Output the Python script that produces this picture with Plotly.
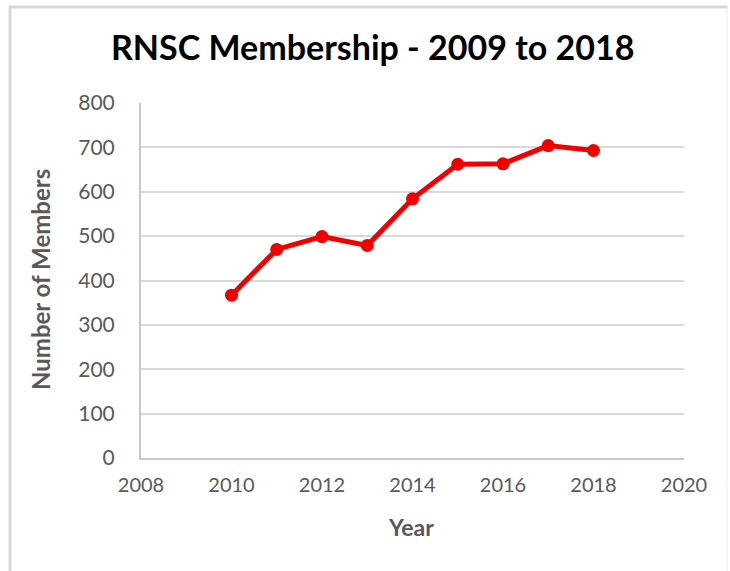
import plotly.graph_objects as go

years = [2010, 2011, 2012, 2013, 2014, 2015, 2016, 2017, 2018]
members = [367, 470, 499, 479, 584, 662, 663, 704, 693]

x_ticks = [2008, 2010, 2012, 2014, 2016, 2018, 2020]
y_ticks = [0, 100, 200, 300, 400, 500, 600, 700, 800]

title_text = "RNSC Membership - 2009 to 2018"
x_title = "Year"
y_title = "Number of Members"

W, H = 730, 571
L, R, T, B = 141, 46, 103, 113
pw, ph = W - L - R, H - T - B

def px(x):
    return (x - L) / pw

def py(y):
    return (H - B - y) / ph

fig = go.Figure()
fig.add_trace(go.Scatter(
    x=years, y=members, mode="lines+markers",
    line=dict(color="#f20000", width=5),
    marker=dict(color="#f20000", size=13),
    showlegend=False, hoverinfo="x+y",
))

font = "Lato, 'Open Sans', sans-serif"
fig.update_layout(
    width=W, height=H,
    margin=dict(l=L, r=R, t=T, b=B),
    paper_bgcolor="white", plot_bgcolor="white",
    font=dict(family=font, color="#595959"),
    xaxis=dict(range=[2008, 2020], tickvals=x_ticks, ticktext=[str(v) for v in x_ticks],
               showgrid=False, zeroline=False, showline=True, linecolor="#c8c8c8", linewidth=2,
               tickfont=dict(size=20, color="#595959"), ticks="", ticklabelstandoff=8),
    yaxis=dict(range=[0, 800], tickvals=y_ticks, ticktext=[str(v) for v in y_ticks],
               showgrid=True, gridcolor="#d9d9d9", gridwidth=2, zeroline=False,
               showline=True, linecolor="#c8c8c8", linewidth=2,
               tickfont=dict(size=21, color="#595959"), ticks="", ticklabelstandoff=20),
    annotations=[
        dict(text="<b>%s</b>" % title_text, x=px(372), y=py(47), xref="paper", yref="paper",
             showarrow=False, font=dict(size=34, color="#000000", family=font),
             xanchor="center", yanchor="middle"),
        dict(text="<b>%s</b>" % x_title, x=px(411), y=py(527), xref="paper", yref="paper",
             showarrow=False, font=dict(size=23, color="#595959", family=font),
             xanchor="center", yanchor="middle"),
        dict(text="<b>%s</b>" % y_title, x=px(40), y=py(280), xref="paper", yref="paper",
             showarrow=False, textangle=-90, font=dict(size=24, color="#595959", family=font),
             xanchor="center", yanchor="middle"),
    ],
    shapes=[
        dict(type="line", xref="paper", yref="paper", x0=px(10), x1=px(10), y0=py(6), y1=py(575),
             line=dict(color="#d9d9d9", width=3)),
        dict(type="line", xref="paper", yref="paper", x0=px(9), x1=px(728), y0=py(7), y1=py(7),
             line=dict(color="#d9d9d9", width=3)),
        dict(type="line", xref="paper", yref="paper", x0=px(727), x1=px(727), y0=py(6), y1=py(575),
             line=dict(color="#eeeeee", width=1)),
    ],
)

fig.write_html("out.html")
